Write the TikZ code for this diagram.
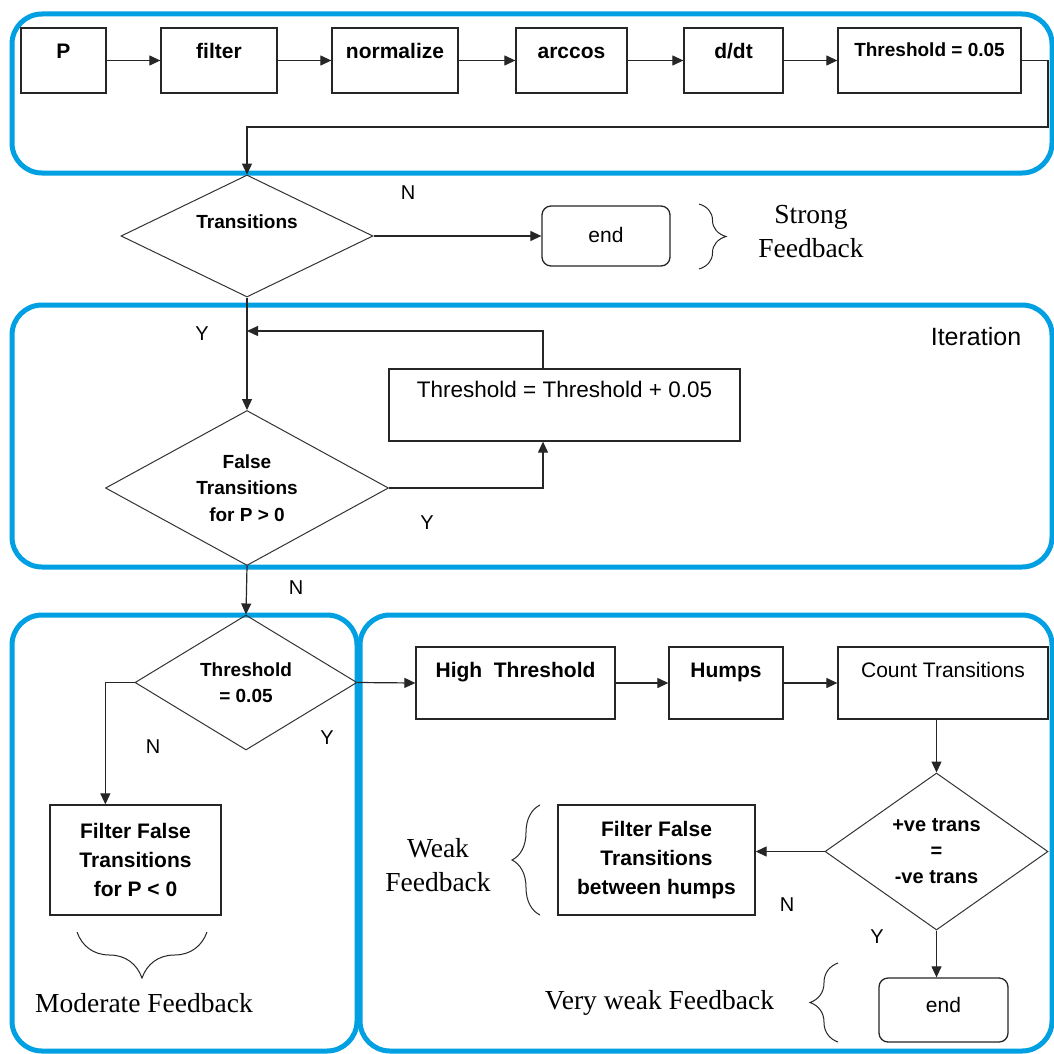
\documentclass[tikz,border=0pt]{standalone}
\usepackage{fontspec}
\setmainfont{Liberation Serif}
\setsansfont{Liberation Sans}
\usetikzlibrary{shapes.geometric,arrows.meta,decorations.pathreplacing,calc}
\definecolor{frameblue}{RGB}{0,160,227}
\newcommand\fsb{\sffamily\bfseries\fontsize{21}{29}\selectfont}
\newcommand\fsbt{\sffamily\bfseries\fontsize{19}{26.5}\selectfont}
\newcommand\fsr{\sffamily\fontsize{21}{27}\selectfont}
\newcommand\fsl{\sffamily\fontsize{20}{24}\selectfont}
\newcommand\fser{\rmfamily\fontsize{27.5}{34}\selectfont}
\begin{document}
\begin{tikzpicture}[x=1pt,y=-1pt,
  frame/.style={draw=frameblue, line width=5pt, rounded corners=30pt},
  box/.style={draw=black!85, line width=1.3pt, rectangle, inner xsep=0pt, inner ysep=0pt},
  endbox/.style={box, rounded corners=9pt},
  dia/.style={diamond, draw=black!80, line width=1pt, inner sep=0pt, aspect=1.5},
  arr/.style={draw=black!85, line width=1.2pt, -{Triangle[length=11pt,width=10pt]}},
  lbl/.style={font=\fsl, inner sep=0pt},
  brc/.style={draw=black!85, line width=1pt, decorate, decoration={brace, amplitude=#1, aspect=0.5}},
  sertext/.style={font=\fser, align=center, inner sep=0pt}
]
\useasboundingbox (0,0) rectangle (1054,1054);
\fill[white] (0,0) rectangle (1054,1054);

% frames
\draw[frame] (12,14) rectangle (1052,173);
\draw[frame] (12,305) rectangle (1052,567);
\draw[frame] (12,615) rectangle (357,1051);
\draw[frame] (360,615) rectangle (1052,1051);

% top row
\node[box, minimum width=85, text height=31pt, text depth=34pt, font=\fsb] (p) at (63.5,60.5) {P};
\node[box, minimum width=116, text height=31pt, text depth=34pt, font=\fsb] (filt) at (219,60.5) {filter};
\node[box, minimum width=126, text height=31pt, text depth=34pt, font=\fsb] (norm) at (395,60.5) {normalize};
\node[box, minimum width=111, text height=31pt, text depth=34pt, font=\fsb] (acos) at (571.5,60.5) {arccos};
\node[box, minimum width=99, text height=31pt, text depth=34pt, font=\fsb] (ddt) at (733.5,60.5) {d/dt};
\node[box, minimum width=183, text height=29pt, text depth=36pt, font=\fsbt] (th1) at (929.5,60.5) {Threshold = 0.05};
\draw[arr] (p.east) -- (filt.west);
\draw[arr] (filt.east) -- (norm.west);
\draw[arr] (norm.east) -- (acos.west);
\draw[arr] (acos.east) -- (ddt.west);
\draw[arr] (ddt.east) -- (th1.west);

% transitions
\node[dia, minimum width=252, minimum height=122, text height=14pt, text depth=30pt, font=\fsbt] (tr) at (247,236) {Transitions};
\coordinate (r1) at (1048,127);
\draw[arr] (th1.east) -| (r1) -| (tr.north);
\node[endbox, minimum width=128, text height=36pt, text depth=24pt, font=\fsr] (end1) at (606,236) {end};
\draw[arr] (tr.east) -- (end1.west);
\node[lbl] (n1) at (408,193) {N};
\draw[brc=27pt] (699,204) -- (699,269);
\node[sertext] (strong) at (811,232) {Strong\\Feedback};

% iteration
\node[font=\sffamily\fontsize{25}{30}\selectfont, inner sep=0pt] (iter) at (976,337) {Iteration};
\node[dia, minimum width=283, minimum height=155, align=center, font=\fsbt] (ft) at (247,488) {False\\Transitions\\for P > 0};
\draw[arr] (tr.south) -- (ft.north);
\node[lbl] (y1) at (202,334) {Y};
\node[box, minimum width=351, text height=28pt, text depth=44pt, font=\sffamily\fontsize{22.5}{27}\selectfont] (th2) at (564.5,405) {Threshold = Threshold + 0.05};
\coordinate (jx) at (543,0);
\coordinate (jn) at (247,331);
\draw[arr] (th2.north -| jx) |- (jn);
\draw[arr] (ft.east) -| (th2.south -| jx);
\node[lbl] (y2) at (427,523) {Y};

% threshold = 0.05
\node[dia, minimum width=222, minimum height=135, align=center, font=\fsbt] (td) at (246,682.5) {Threshold\\= 0.05};
\draw[arr] (ft.south) -- (td.north);
\node[lbl] (n2) at (296,588) {N};
\node[box, minimum width=171, minimum height=110, align=center, font=\fsb] (fb) at (135.5,860) {Filter False\\Transitions\\for P < 0};
\coordinate (fbtop) at ($(fb.north west)+(56,0)$);
\draw[arr] (td.west) -| (fbtop);
\node[lbl] (n3) at (153,747) {N};
\node[lbl] (y3) at (327,738) {Y};
\draw[brc=46pt] (207,932) -- (77,932);
\node[sertext] (moderate) at (144,1003) {Moderate Feedback};

% right bottom
\node[box, minimum width=199, text height=30pt, text depth=42pt, font=\fsb] (ht) at (515.5,683) {High\ \ Threshold};
\node[box, minimum width=114, text height=30pt, text depth=42pt, font=\fsb] (hu) at (726,683) {Humps};
\node[box, minimum width=210, text height=30pt, text depth=42pt, font=\fsr] (ct) at (943,683) {Count Transitions};
\draw[arr] (td.east) -- (ht.west);
\draw[arr] (ht.east) -- (hu.west);
\draw[arr] (hu.east) -- (ct.west);
\node[dia, minimum width=223, minimum height=157, align=center, font=\sffamily\bfseries\fontsize{20}{26}\selectfont] (pv) at (936.5,851.5) {+ve trans\\=\\-ve trans};
\draw[arr] (ct.south -| pv.north) -- (pv.north);
\node[box, minimum width=197, minimum height=110, align=center, font=\fsb] (fb2) at (656.5,860) {Filter False\\Transitions\\between humps};
\draw[arr] (pv.west) -- (pv.west -| fb2.east);
\node[lbl] (n4) at (787,905) {N};
\draw[brc=28pt] (540,915) -- (540,805);
\node[sertext] (weak) at (438,865) {Weak\\Feedback};
\node[endbox, minimum width=129, text height=34pt, text depth=30pt, font=\fsr] (end2) at (943.5,1010) {end};
\draw[arr] (pv.south) -- (pv.south |- end2.north);
\node[lbl] (y4) at (877,937) {Y};
\draw[brc=28pt] (838,1042) -- (838,963);
\node[sertext] (vweak) at (659.5,1003) {Very weak Feedback};
\end{tikzpicture}
\end{document}
